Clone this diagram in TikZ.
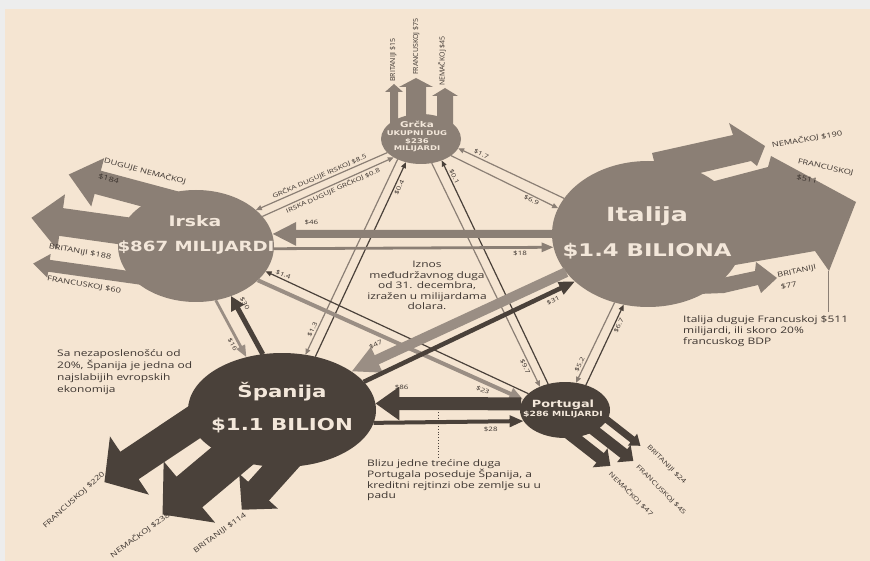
\documentclass[tikz,border=0pt]{standalone}
\usepackage{fontspec}
\usetikzlibrary{shapes.geometric,arrows.meta}
\newfontfamily\bodyf{Open Sans}[FakeStretch=1.33]
\newfontfamily\vertf{Open Sans}
\newfontfamily\titlef{DejaVu Sans}[FakeStretch=1.3]
\definecolor{bgbeige}{HTML}{F5E5D2}
\definecolor{bgedge}{HTML}{EDEDED}
\definecolor{gbr}{HTML}{8B7F75}
\definecolor{gbrl}{HTML}{9A8E84}
\definecolor{dbr}{HTML}{4A413A}
\definecolor{txt}{HTML}{3D3530}
\definecolor{ttxt}{HTML}{F3E7DA}
\newcommand\fatarrow[7]{\fill[#1, shift={(#2)}, rotate=#3] (0,{-(#5)/2}) -- ({#4-#7},{-(#5)/2}) -- ({#4-#7},{-(#6)/2}) -- (#4,0) -- ({#4-#7},{(#6)/2}) -- ({#4-#7},{(#5)/2}) -- (0,{(#5)/2}) -- cycle;}
\tikzset{
  country/.style={ellipse, inner sep=0pt, outer sep=0pt, draw=none},
  ttl/.style={text=ttxt, inner sep=0pt, anchor=base},
  notetxt/.style={font=\bodyf\fontsize{9}{11}\selectfont, text=txt, align=left, inner sep=0pt},
  albl/.style={font=\bodyf\fontsize{7}{8}\selectfont, text=txt, inner sep=0pt},
  vlbl/.style={font=\vertf\fontsize{7}{8}\selectfont, text=txt, inner sep=0pt, rotate=90, anchor=west},
  clbl/.style={font=\bodyf\fontsize{6}{7}\selectfont, text=txt, inner sep=1.5pt, sloped},
  thinarr/.style={line width=1.2pt, -{Triangle[length=6pt,width=5pt]}}
}
\begin{document}
\begin{tikzpicture}[x=1pt,y=-1pt]
\useasboundingbox (0,0) rectangle (870,561);
\fill[bgedge] (0,0) rectangle (870,561);
\fill[bgbeige] (5,9) rectangle (870,561);

% countries
\node[country, fill=gbr, minimum width=80pt, minimum height=50pt] (grc) at (421,139) {};
\node[country, fill=gbr, minimum width=156pt, minimum height=112pt] (irs) at (196,246) {};
\node[country, fill=gbr, minimum width=192pt, minimum height=146pt] (ita) at (648,234) {};
\node[country, fill=dbr, minimum width=188pt, minimum height=114pt] (spa) at (282,410) {};
\node[country, fill=dbr, minimum width=90pt, minimum height=56pt] (por) at (565,410) {};

% big outgoing arrows: Grcka
\fatarrow{gbr}{394,130}{90}{46}{8}{18}{8}
\fatarrow{gbr}{416,125}{90}{47}{20}{34}{9}
\fatarrow{gbr}{445,128}{90}{40}{16}{26}{8}
% Irska
\fatarrow{gbr}{175,203}{165}{110}{24}{50}{30}
\fatarrow{gbr}{175,238}{172}{145}{28}{56}{30}
\fatarrow{gbr}{150,280}{172}{118}{12}{24}{16}
% Italija
\fill[gbr] (660,185) -- (652,153) -- (733,135) -- (729,123) -- (765,146) -- (757,166) -- (751,161) -- (683,177) -- cycle;
\fill[gbr] (700,220) -- (688,188) -- (768,167) -- (771,156) -- (856,202) -- (829,271) -- (815,251) -- (735,265) -- (705,250) -- cycle;
\fill[gbr] (690,285) -- (722,278) -- (755,271) -- (756,262) -- (777,278) -- (761,293) -- (758,285) -- (724,293) -- (698,294) -- cycle;
% Spanija
\fatarrow{dbr}{212.6,410}{213.7}{130}{33}{70}{30}
\fatarrow{dbr}{243,447}{220}{105}{40}{80}{35}
\fatarrow{dbr}{292,454}{228}{75}{28}{52}{25}
% Portugal
\fatarrow{dbr}{567,432}{-38}{55}{12}{24}{13}
\fatarrow{dbr}{586,424}{-38}{60}{11}{22}{12}
\fatarrow{dbr}{601,415}{-38}{50}{7}{15}{10}

% connectors between countries
\draw[thinarr, gbr] (grc.202) -- (irs.31) node[clbl, pos=.5, above] (c1) {GRČKA DUGUJE IRSKOJ \$8.5};
\draw[thinarr, gbr] (irs.24) -- (grc.214) node[clbl, pos=.52, below] (c2) {IRSKA DUGUJE GRČKOJ \$0.8};
\draw[thinarr, gbr] (ita.157) -- (grc.346) node[clbl, pos=.8, above] (c3) {\$1.7};
\draw[thinarr, gbr] (grc.331) -- (ita.164) node[clbl, pos=.77, below] (c4) {\$6.9};
\draw[thinarr, dbr] (spa.58) -- (grc.237) node[clbl, pos=.88, below] (c5) {\$0.4};
\draw[thinarr, gbr] (grc.221) -- (spa.67) node[clbl, pos=.88, above] (c6) {\$1.3};
\draw[thinarr, dbr] (por.123) -- (grc.314) node[clbl, pos=.92, above] (c7) {\$0.1};
\draw[thinarr, gbr] (grc.294) -- (por.137) node[clbl, pos=.9, below] (c8) {\$9.7};
\draw[gbr, line width=8pt, -{Triangle[length=24pt,width=22pt]}] (ita.180) -- (irs.9) node[clbl, pos=.86, above=4pt] (c9) {\$46};
\draw[gbr, line width=2.8pt, -{Triangle[length=12pt,width=9pt]}] (irs.358) -- (ita.188) node[clbl, pos=.88, below=1pt] (c10) {\$18};
\draw[dbr, line width=5pt, -{Triangle[length=14pt,width=14pt]}] (spa.109) -- (irs.305) node[clbl, pos=.8, above=2pt] (c11) {\$30};
\draw[gbrl, line width=2.8pt, -{Triangle[length=12pt,width=9pt]}] (irs.290) -- (spa.124) node[clbl, pos=.73, below=1pt] (c12) {\$16};
\draw[thinarr, dbr] (por.156) -- (irs.340) node[clbl, pos=.94, above] (c13) {\$1.4};
\draw[gbrl, line width=4pt, -{Triangle[length=14pt,width=12pt]}] (irs.331) -- (por.166) node[clbl, pos=.86, below=2pt] (c14) {\$23};
\draw[gbrl, line width=10pt, -{Triangle[length=28pt,width=26pt]}] (ita.205) -- (spa.29) node[clbl, pos=.86, above=5pt] (c15) {\$47};
\draw[dbr, line width=4.5pt, -{Triangle[length=16pt,width=13pt]}] (spa.19) -- (ita.213) node[clbl, pos=.88, below=2pt] (c16) {\$31};
\draw[thinarr, dbr] (por.50) -- (ita.251) node[clbl, pos=.76, below] (c17) {\$6.7};
\draw[thinarr, gbr] (ita.244) -- (por.68) node[clbl, pos=.8, above] (c18) {\$5.2};
\draw[dbr, line width=13pt, -{Triangle[length=24pt,width=32pt]}] (por.172) -- (spa.4) node[clbl, pos=.82, above=6pt] (c19) {\$86};
\draw[dbr, line width=4pt, -{Triangle[length=14pt,width=11pt]}] (spa.352) -- (por.195) node[clbl, pos=.78, below=2pt] (c20) {\$28};

% country titles
\node[ttl, font=\titlef\bfseries\fontsize{8}{9}\selectfont] (grc-a) at (417,128) {Grčka};
\node[ttl, font=\titlef\bfseries\fontsize{6.5}{7}\selectfont] (grc-b) at (417,136) {UKUPNI DUG};
\node[ttl, font=\titlef\bfseries\fontsize{6.5}{7}\selectfont] (grc-c) at (417,143.5) {\$236};
\node[ttl, font=\titlef\bfseries\fontsize{6.5}{7}\selectfont] (grc-d) at (417,151) {MILIJARDI};
\node[ttl, font=\titlef\bfseries\fontsize{14.5}{16}\selectfont] (irs-a) at (195,227) {Irska};
\node[ttl, font=\titlef\bfseries\fontsize{14}{16}\selectfont] (irs-b) at (196,252) {\$867 MILIJARDI};
\node[ttl, font=\titlef\bfseries\fontsize{19.5}{21}\selectfont] (ita-a) at (647,222) {Italija};
\node[ttl, font=\titlef\bfseries\fontsize{17.5}{19}\selectfont] (ita-b) at (647,257) {\$1.4 BILIONA};
\node[ttl, font=\titlef\bfseries\fontsize{16.4}{18}\selectfont] (spa-a) at (282,397) {Španija};
\node[ttl, font=\titlef\bfseries\fontsize{16.4}{18}\selectfont] (spa-b) at (282,430) {\$1.1 BILION};
\node[ttl, font=\titlef\bfseries\fontsize{9.9}{11}\selectfont] (por-a) at (563,407) {Portugal};
\node[ttl, font=\titlef\bfseries\fontsize{7.1}{8}\selectfont] (por-b) at (563,416.5) {\$286 MILIJARDI};

% big arrow labels
\node[vlbl] (g1) at (393,82) {BRITANIJI \$15};
\node[vlbl] (g2) at (416,75) {FRANCUSKOJ \$75};
\node[vlbl] (g3) at (442,86) {NEMAČKOJ \$45};
\node[albl, rotate=-15, anchor=south west] (i1) at (103,164) {DUGUJE NEMAČKOJ};
\node[albl, rotate=-15, anchor=north west] (i1b) at (99,173) {\$184};
\node[albl, rotate=-10] (i2) at (80,252) {BRITANIJI \$188};
\node[albl, rotate=-10] (i3) at (84,285) {FRANCUSKOJ \$60};
\node[albl, rotate=10] (t1) at (807,139) {NEMAČKOJ \$190};
\node[albl, rotate=-12, anchor=south west] (t2) at (797,165) {FRANCUSKOJ};
\node[albl, rotate=-12, anchor=north west] (t2b) at (797,174) {\$511};
\node[albl, rotate=12, anchor=south west] (t3) at (778,279) {BRITANIJI};
\node[albl, rotate=12, anchor=north west] (t3b) at (780,284) {\$77};
\node[albl, rotate=42] (s1) at (74,500) {FRANCUSKOJ \$220};
\node[albl, rotate=36] (s2) at (140,535) {NEMAČKOJ \$238};
\node[albl, rotate=36] (s3) at (220,533) {BRITANIJI \$114};
\node[albl, font=\bodyf\fontsize{6.3}{7}\selectfont, rotate=-45, anchor=west] (p1) at (648,446) {BRITANIJI \$24};
\node[albl, font=\bodyf\fontsize{6.3}{7}\selectfont, rotate=-45, anchor=west] (p2) at (637,466) {FRANCUSKOJ \$45};
\node[albl, font=\bodyf\fontsize{6.3}{7}\selectfont, rotate=-45, anchor=west] (p3) at (610,473) {NEMAČKOJ \$47};

% notes
\node[notetxt, anchor=north west, font=\bodyf\fontsize{9}{12}\selectfont] (spnote) at (57,349) {Sa nezaposlenošću od\\20\%, Španija je jedna od\\najslabijih evropskih\\ekonomija};
\node[notetxt, anchor=north, align=center, font=\bodyf\fontsize{9}{10.5}\selectfont] (ctrnote) at (427,261) {Iznos\\međudržavnog duga\\od 31. decembra,\\izražen u milijardama\\dolara.};
\node[notetxt, anchor=north west] (itnote) at (683,315) {Italija duguje Francuskoj \$511\\milijardi, ili skoro 20\%\\francuskog BDP};
\node[notetxt, anchor=north west, font=\bodyf\fontsize{9}{10.5}\selectfont] (ptnote) at (367,459) {Blizu jedne trećine duga\\Portugala poseduje Španija, a\\kreditni rejtinzi obe zemlje su u\\padu};

% leader lines
\coordinate (itlead) at (828,271);
\coordinate (ptlead) at (438,412);
\draw[gbr, line width=0.7pt] (itlead) -- ([yshift=3pt]itlead |- itnote.north);
\draw[dbr, line width=0.8pt, dotted] (ptlead) -- ([yshift=2pt]ptlead |- ptnote.north);
\end{tikzpicture}
\end{document}
